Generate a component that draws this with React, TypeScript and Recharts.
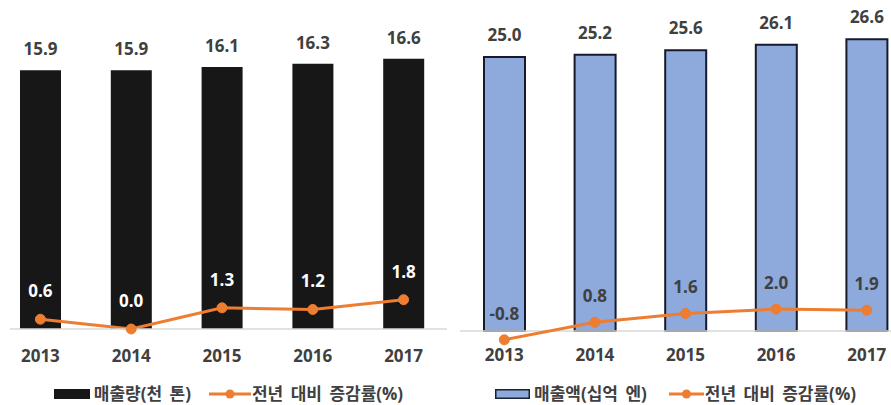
import React from 'react';
import { ComposedChart, Bar, Line, XAxis, YAxis, LabelList, Legend, ReferenceLine } from 'recharts';

const years = ['2013', '2014', '2015', '2016', '2017'];
const volume = [15.9, 15.9, 16.1, 16.3, 16.6];
const volumeGrowth = [0.6, 0.0, 1.3, 1.2, 1.8];
const sales = [25.0, 25.2, 25.6, 26.1, 26.6];
const salesGrowth = [-0.8, 0.8, 1.6, 2.0, 1.9];

const volumeName = '매출량(천 톤)';
const salesName = '매출액(십억 엔)';
const growthName = '전년 대비 증감률(%)';

const leftData = years.map((y, i) => ({ year: y, bar: volume[i], growth: volumeGrowth[i] }));
const rightData = years.map((y, i) => ({ year: y, bar: sales[i], growth: salesGrowth[i] }));

const ORANGE = '#ED7D31';
const TEXT = '#404040';
const NUM_FONT = '"Open Sans", "Noto Sans CJK KR", sans-serif';
const KR_FONT = '"Open Sans", "Noto Sans CJK KR", sans-serif';

const fmt = (v: any) => Number(v).toFixed(1);

function makeLegend(barFill: string, barStroke: string | null, rectW: number, lineW: number, gap: number) {
  return (props: any) => {
    const payload = props.payload || [];
    return (
      <div style={{ display: 'flex', justifyContent: 'center', alignItems: 'center', height: 22, lineHeight: '22px', fontFamily: KR_FONT, fontSize: 17, fontWeight: 700, color: TEXT, whiteSpace: 'nowrap', overflow: 'visible' }}>
        {payload.map((p: any, i: number) => (
          <div key={i} style={{ display: 'flex', alignItems: 'center', marginRight: i === 0 ? gap : 0 }}>
            {p.type === 'line' ? (
              <svg width={lineW} height={12} style={{ marginRight: 1 }}>
                <line x1={0} y1={6} x2={lineW} y2={6} stroke={ORANGE} strokeWidth={3} />
                <circle cx={lineW / 2} cy={6} r={4.5} fill={ORANGE} />
              </svg>
            ) : (
              <svg width={rectW} height={10} style={{ marginRight: 4 }}>
                <rect x={barStroke ? 0.75 : 0} y={barStroke ? 0.75 : 0} width={barStroke ? rectW - 1.5 : rectW} height={barStroke ? 8.5 : 10} fill={barFill} stroke={barStroke || 'none'} strokeWidth={barStroke ? 1.5 : 0} />
              </svg>
            )}
            <span style={{ wordSpacing: 3 }}>{p.value}</span>
          </div>
        ))}
      </div>
    );
  };
}

export default function App() {
  return (
    <div style={{ position: 'absolute', left: 0, top: 0, width: 891, height: 405, background: '#fff', overflow: 'hidden' }}>
      <div style={{ position: 'absolute', left: 0, top: 0 }}>
        <ComposedChart width={450} height={405} data={leftData} margin={{ top: 36, right: 3, left: 10, bottom: 14 }}>
          <XAxis dataKey="year" height={40} padding={{ left: -15, right: -2 }} tickLine={false} tickSize={0} tickMargin={21}
            axisLine={{ stroke: '#d9d9d9', strokeWidth: 1.5 }}
            tick={{ fill: TEXT, fontSize: 17, fontWeight: 700, fontFamily: NUM_FONT }} interval={0} />
          <YAxis hide domain={[0, 18]} />
          <Legend verticalAlign="bottom" wrapperStyle={{ bottom: 0 }} content={makeLegend('#171717', null, 36, 42, 18)} />
          <Bar dataKey="bar" name={volumeName} fill="#171717" barSize={41} isAnimationActive={false}>
            <LabelList dataKey="bar" position="top" offset={15} formatter={fmt}
              style={{ fill: TEXT, fontSize: 17, fontWeight: 700, fontFamily: NUM_FONT }} />
          </Bar>
          <Line dataKey="growth" name={growthName} stroke={ORANGE} strokeWidth={3} dot={{ r: 5, fill: ORANGE, stroke: ORANGE, strokeWidth: 1 }} isAnimationActive={false}>
            <LabelList dataKey="growth" position="top" offset={22} formatter={fmt}
              style={{ fill: '#ffffff', fontSize: 17, fontWeight: 700, fontFamily: NUM_FONT }} />
          </Line>
        </ComposedChart>
      </div>
      <div style={{ position: 'absolute', left: 450, top: 0 }}>
        <ComposedChart width={441} height={405} data={rightData} margin={{ top: 24, right: 0, left: 10, bottom: 11 }}>
          <XAxis dataKey="year" height={30} padding={{ left: -1, right: -21 }} tickLine={false} tickSize={0} tickMargin={7}
            axisLine={false}
            tick={{ fill: TEXT, fontSize: 17, fontWeight: 700, fontFamily: NUM_FONT }} interval={0} />
          <YAxis hide domain={[-1, 28]} />
          <ReferenceLine y={0} stroke="#d9d9d9" strokeWidth={1.5} />
          <Legend verticalAlign="bottom" wrapperStyle={{ bottom: 0 }} content={makeLegend('#8EA9DB', '#1a2236', 35, 35, 22)} />
          <Bar dataKey="bar" name={salesName} fill="#8EA9DB" stroke="#161b2c" strokeWidth={2} barSize={41} isAnimationActive={false}>
            <LabelList dataKey="bar" position="top" offset={16} formatter={fmt}
              style={{ fill: TEXT, fontSize: 17, fontWeight: 700, fontFamily: NUM_FONT, stroke: 'none' }} />
          </Bar>
          <Line dataKey="growth" name={growthName} stroke={ORANGE} strokeWidth={3} dot={{ r: 5, fill: ORANGE, stroke: ORANGE, strokeWidth: 1 }} isAnimationActive={false}>
            <LabelList dataKey="growth" position="top" offset={20} formatter={fmt}
              style={{ fill: TEXT, fontSize: 17, fontWeight: 700, fontFamily: NUM_FONT }} />
          </Line>
        </ComposedChart>
      </div>
    </div>
  );
}
